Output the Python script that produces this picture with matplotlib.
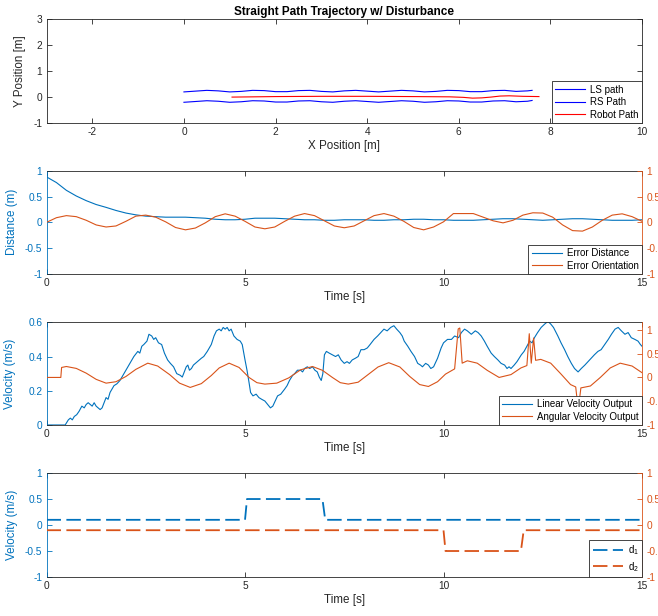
import numpy as np
import matplotlib
matplotlib.use('Agg')
import matplotlib.pyplot as plt
from matplotlib.ticker import FormatStrFormatter

plt.rcParams['font.family'] = ['Liberation Sans', 'DejaVu Sans']
plt.rcParams['axes.unicode_minus'] = False
plt.rcParams['mathtext.fontset'] = 'custom'
plt.rcParams['mathtext.rm'] = 'Liberation Sans'
plt.rcParams['mathtext.it'] = 'Liberation Sans:italic'

BLUE = '#0072BD'
ORANGE = '#D95319'
DARK = '#262626'

# ---- trajectory (x-y) ----
path_x = [0.0, 0.25, 0.5, 0.75, 1.0, 1.25, 1.5, 1.75, 2.0, 2.25, 2.5, 2.75, 3.0, 3.25, 3.5, 3.75,
          4.0, 4.25, 4.5, 4.75, 5.0, 5.25, 5.5, 5.75, 6.0, 6.25, 6.5, 6.75, 7.0, 7.25, 7.5, 7.6]
ls_y = [0.20, 0.23, 0.26, 0.24, 0.20, 0.22, 0.26, 0.25, 0.21, 0.21, 0.25, 0.26, 0.22, 0.20, 0.24, 0.26,
        0.23, 0.20, 0.23, 0.26, 0.24, 0.20, 0.22, 0.26, 0.25, 0.21, 0.21, 0.25, 0.26, 0.22, 0.24, 0.26]
rs_y = [-0.20, -0.17, -0.14, -0.16, -0.20, -0.18, -0.14, -0.15, -0.19, -0.19, -0.15, -0.14, -0.18, -0.20, -0.16, -0.14,
        -0.17, -0.20, -0.17, -0.14, -0.16, -0.20, -0.18, -0.14, -0.15, -0.19, -0.19, -0.15, -0.14, -0.18, -0.16, -0.13]
robot_x = [1.05, 2.0, 3.0, 4.0, 5.0, 5.8, 6.1, 6.3, 6.5, 6.7, 6.9, 7.1, 7.4, 7.75]
robot_y = [0.0, 0.02, 0.03, 0.03, 0.02, 0.01, -0.01, -0.04, -0.03, 0.0, 0.04, 0.05, 0.03, 0.02]

# ---- errors vs time ----
t_err = np.arange(61) * 0.25
err_dist = [0.88, 0.77, 0.62, 0.51, 0.42, 0.345, 0.29, 0.23, 0.18, 0.145, 0.12, 0.11, 0.10, 0.10, 0.10, 0.09,
            0.08, 0.06, 0.05, 0.05, 0.06, 0.08, 0.08, 0.08, 0.07, 0.06, 0.05, 0.05, 0.04, 0.04, 0.05, 0.05,
            0.05, 0.04, 0.04, 0.05, 0.05, 0.06, 0.06, 0.05, 0.05, 0.04, 0.04, 0.04, 0.05, 0.06, 0.07, 0.07,
            0.06, 0.05, 0.04, 0.05, 0.06, 0.07, 0.07, 0.06, 0.05, 0.04, 0.04, 0.04, 0.05]
err_orient = [0.0, 0.09, 0.13, 0.11, 0.04, -0.05, -0.09, -0.07, 0.02, 0.12, 0.14, 0.10, 0.01, -0.10, -0.145, -0.11,
              -0.01, 0.11, 0.165, 0.12, 0.02, -0.09, -0.125, -0.09, 0.02, 0.12, 0.17, 0.13, 0.03, -0.07, -0.105, -0.07,
              0.03, 0.13, 0.17, 0.12, 0.02, -0.10, -0.145, -0.09, 0.01, 0.17, 0.17, 0.17, 0.10, 0.03, -0.01, 0.04,
              0.14, 0.185, 0.18, 0.10, -0.05, -0.16, -0.17, -0.09, 0.04, 0.14, 0.165, 0.11, 0.02]

# ---- controller outputs ----
lin_t = [0.0, 0.47, 0.55, 0.6, 0.65, 0.7, 0.76, 0.82, 0.89, 0.95, 1.0, 1.05, 1.1, 1.15, 1.2, 1.25, 1.3, 1.35,
         1.4, 1.45, 1.5, 1.55, 1.6, 1.7, 1.77, 1.85, 1.95, 2.05, 2.1, 2.2, 2.3, 2.35, 2.4, 2.45, 2.53, 2.58,
         2.65, 2.7, 2.75, 2.82, 2.9, 2.97, 3.05, 3.12, 3.2, 3.28, 3.37, 3.42, 3.47, 3.52, 3.56, 3.6, 3.65, 3.7,
         3.8, 3.9, 3.96, 4.05, 4.15, 4.22, 4.28, 4.35, 4.4, 4.45, 4.5, 4.55, 4.6, 4.65, 4.72, 4.8, 4.88, 4.93,
         5.0, 5.05, 5.1, 5.14, 5.2, 5.28, 5.35, 5.42, 5.5, 5.57, 5.64, 5.7, 5.76, 5.82, 5.9, 6.0, 6.06, 6.12,
         6.2, 6.25, 6.32, 6.4, 6.45, 6.5, 6.57, 6.63, 6.7, 6.76, 6.82, 6.87, 6.92, 6.96, 7.0, 7.05, 7.12, 7.2,
         7.28, 7.35, 7.42, 7.5, 7.57, 7.63, 7.7, 7.78, 7.85, 7.92, 8.0, 8.08, 8.15, 8.25, 8.34, 8.42, 8.5, 8.58,
         8.67, 8.75, 8.82, 8.9, 8.96, 9.01, 9.1, 9.18, 9.27, 9.35, 9.42, 9.47, 9.55, 9.62, 9.68, 9.75, 9.85, 9.94,
         10.0, 10.1, 10.2, 10.28, 10.38, 10.45, 10.53, 10.6, 10.7, 10.8, 10.87, 10.95, 11.03, 11.1, 11.2, 11.28,
         11.37, 11.45, 11.54, 11.6, 11.65, 11.7, 11.78, 11.85, 11.96, 12.03, 12.1, 12.17, 12.23, 12.29, 12.37,
         12.46, 12.55, 12.63, 12.7, 12.77, 12.88, 12.96, 13.05, 13.13, 13.22, 13.3, 13.39, 13.47, 13.56, 13.64,
         13.72, 13.8, 13.89, 13.97, 14.06, 14.15, 14.23, 14.32, 14.4, 14.48, 14.57, 14.65, 14.73, 14.82, 14.9,
         14.96, 15.0]
lin_v = [0.0, 0.0, 0.03, 0.04, 0.03, 0.05, 0.06, 0.08, 0.11, 0.10, 0.12, 0.13, 0.12, 0.11, 0.13, 0.11, 0.10, 0.09,
         0.10, 0.13, 0.16, 0.15, 0.19, 0.23, 0.24, 0.26, 0.30, 0.34, 0.36, 0.40, 0.43, 0.42, 0.46, 0.47, 0.49, 0.53,
         0.52, 0.50, 0.51, 0.48, 0.47, 0.42, 0.38, 0.36, 0.34, 0.30, 0.29, 0.28, 0.31, 0.34, 0.35, 0.32, 0.33, 0.35,
         0.37, 0.39, 0.40, 0.43, 0.47, 0.52, 0.55, 0.56, 0.55, 0.57, 0.56, 0.57, 0.55, 0.56, 0.52, 0.50, 0.49, 0.47,
         0.38, 0.32, 0.25, 0.19, 0.17, 0.18, 0.16, 0.15, 0.14, 0.12, 0.10, 0.11, 0.14, 0.17, 0.18, 0.21, 0.23, 0.26,
         0.29, 0.30, 0.32, 0.32, 0.31, 0.33, 0.34, 0.33, 0.34, 0.32, 0.31, 0.28, 0.26, 0.30, 0.41, 0.43, 0.42, 0.41,
         0.40, 0.41, 0.38, 0.36, 0.37, 0.36, 0.38, 0.39, 0.40, 0.44, 0.44, 0.45, 0.47, 0.50, 0.52, 0.54, 0.56, 0.55,
         0.57, 0.58, 0.56, 0.54, 0.52, 0.49, 0.46, 0.43, 0.40, 0.36, 0.35, 0.34, 0.36, 0.35, 0.33, 0.34, 0.39, 0.45,
         0.48, 0.50, 0.50, 0.52, 0.51, 0.54, 0.56, 0.55, 0.53, 0.55, 0.54, 0.52, 0.49, 0.46, 0.42, 0.40,
         0.38, 0.36, 0.35, 0.33, 0.34, 0.33, 0.35, 0.37, 0.41, 0.43, 0.46, 0.49, 0.48, 0.51, 0.54,
         0.57, 0.59, 0.605, 0.59, 0.57, 0.52, 0.48, 0.44, 0.40, 0.36, 0.33, 0.31, 0.33, 0.35, 0.37,
         0.39, 0.41, 0.43, 0.44, 0.47, 0.50, 0.53, 0.56, 0.57, 0.55, 0.53, 0.54, 0.51, 0.50, 0.49,
         0.47, 0.46]
ang_t = [0.0, 0.36, 0.38, 0.5, 0.75, 1.0, 1.25, 1.5, 1.75, 2.0, 2.25, 2.55, 2.8, 3.1, 3.35, 3.62, 3.9, 4.15,
         4.35, 4.6, 4.85, 5.1, 5.3, 5.5, 5.8, 6.1, 6.4, 6.7, 6.95, 7.2, 7.4, 7.6, 7.85, 8.1, 8.35, 8.62, 8.9,
         9.15, 9.4, 9.62, 9.85, 10.05, 10.28, 10.37, 10.41, 10.47, 10.6, 10.85, 11.1, 11.4, 11.7, 11.95, 12.1,
         12.16, 12.21, 12.27, 12.32, 12.45, 12.7, 12.95, 13.2, 13.33, 13.37, 13.42, 13.46, 13.7, 13.95, 14.2,
         14.45, 14.75, 15.0]
ang_w = [0.0, 0.0, 0.21, 0.23, 0.19, 0.09, -0.04, -0.12, -0.09, 0.02, 0.17, 0.30, 0.24, 0.06, -0.12, -0.21, -0.13,
         0.04, 0.20, 0.30, 0.21, 0.0, -0.11, -0.14, -0.12, -0.01, 0.16, 0.23, 0.15, 0.0, -0.11, -0.14, -0.10, 0.06,
         0.22, 0.31, 0.22, 0.02, -0.15, -0.19, -0.09, 0.07, 0.18, 1.02, 1.04, 0.30, 0.35, 0.30, 0.15, 0.0, 0.06,
         0.20, 0.25, 0.92, 0.30, 0.83, 0.36, 0.38, 0.30, 0.08, -0.15, -0.20, -0.50, -0.50, -0.22, -0.18, 0.0,
         0.20, 0.30, 0.24, 0.10]

# ---- disturbances ----
d1_t = [0.0, 5.0, 5.05, 6.95, 7.02, 15.0]
d1_v = [0.1, 0.1, 0.5, 0.5, 0.1, 0.1]
d2_t = [0.0, 10.0, 10.05, 11.95, 12.02, 15.0]
d2_v = [-0.1, -0.1, -0.5, -0.5, -0.1, -0.1]

LABEL_FS = 8.4


def matlab_style(ax):
    ax.tick_params(direction='in', length=3.5, width=0.6, labelsize=7.3, colors=DARK, pad=3,
                   top=True, right=True)
    for s in ax.spines.values():
        s.set_linewidth(0.6)
        s.set_color(DARK)
    ax.xaxis.set_major_formatter(FormatStrFormatter('%g'))
    ax.yaxis.set_major_formatter(FormatStrFormatter('%g'))


def yy_axes(rect):
    ax = fig.add_axes(rect)
    matlab_style(ax)
    axr = ax.twinx()
    ax.tick_params(axis='y', right=False, colors=BLUE)
    ax.spines['left'].set_color(BLUE)
    ax.spines['right'].set_visible(False)
    axr.tick_params(axis='y', direction='in', length=3.5, width=0.6, labelsize=7.3, colors=ORANGE, pad=3)
    axr.tick_params(axis='x', bottom=False, top=False, labelbottom=False)
    for side in ['left', 'top', 'bottom']:
        axr.spines[side].set_visible(False)
    axr.spines['right'].set_color(ORANGE)
    axr.spines['right'].set_linewidth(0.6)
    axr.yaxis.set_major_formatter(FormatStrFormatter('%g'))
    ax.set_xlim(0, 15)
    ax.set_xticks([0, 5, 10, 15])
    ax.set_xlabel('Time [s]', fontsize=LABEL_FS, color=DARK, labelpad=2)
    return ax, axr


def add_legend(ax, handles, labels):
    leg = ax.legend(handles, labels, loc='lower right', borderaxespad=0, fancybox=False, framealpha=1,
                    edgecolor=DARK, fontsize=7, handlelength=3.1, handletextpad=0.5, borderpad=0.35,
                    labelspacing=0.25)
    leg.get_frame().set_linewidth(0.6)
    for txt in leg.get_texts():
        txt.set_color('black')
    return leg


fig = plt.figure(figsize=(6.58, 6.16), dpi=100)
L, W = 0.0707, 0.905

# trajectory
ax1 = fig.add_axes([L, 0.8003, W, 0.1683])
matlab_style(ax1)
h1, = ax1.plot(path_x, ls_y, color='b', lw=0.8)
h2, = ax1.plot(path_x, rs_y, color='b', lw=0.8)
h3, = ax1.plot(robot_x, robot_y, color='r', lw=0.8)
ax1.set_xlim(-3, 10)
ax1.set_ylim(-1, 3)
ax1.set_xticks([-2, 0, 2, 4, 6, 8, 10])
ax1.set_yticks([-1, 0, 1, 2, 3])
ax1.set_xlabel('X Position [m]', fontsize=LABEL_FS, color=DARK, labelpad=2)
ax1.set_ylabel('Y Position [m]', fontsize=LABEL_FS, color=DARK, labelpad=5)
ax1.set_title('Straight Path Trajectory w/ Disturbance', fontsize=8.5, fontweight='bold', pad=3)
add_legend(ax1, [h1, h2, h3], ['LS path', 'RS Path', 'Robot Path'])

# tracking errors
ax2, ax2r = yy_axes([L, 0.5552, W, 0.1677])
e1, = ax2.plot(t_err, err_dist, color=BLUE, lw=0.8)
e2, = ax2r.plot(t_err, err_orient, color=ORANGE, lw=0.8)
ax2.set_ylim(-1, 1)
ax2r.set_ylim(-1, 1)
ax2.set_yticks([-1, -0.5, 0, 0.5, 1])
ax2r.set_yticks([-1, -0.5, 0, 0.5, 1])
ax2.set_ylabel('Distance (m)', fontsize=LABEL_FS, color=BLUE, labelpad=5)
add_legend(ax2r, [e1, e2], ['Error Distance', 'Error Orientation'])

# velocity outputs
ax3, ax3r = yy_axes([L, 0.3101, W, 0.1667])
v1, = ax3.plot(lin_t, lin_v, color=BLUE, lw=0.8)
v2, = ax3r.plot(ang_t, ang_w, color=ORANGE, lw=0.8)
ax3.set_ylim(0, 0.6)
ax3r.set_ylim(-1, 1.16)
ax3.set_yticks([0, 0.2, 0.4, 0.6])
ax3r.set_yticks([-1, -0.5, 0, 0.5, 1])
ax3.set_ylabel('Velocity (m/s)', fontsize=LABEL_FS, color=BLUE, labelpad=9)
add_legend(ax3r, [v1, v2], ['Linear Velocity Output', 'Angular Velocity Output'])

# disturbances
ax4, ax4r = yy_axes([L, 0.0633, W, 0.1688])
g1, = ax4.plot(d1_t, d1_v, color=BLUE, lw=1.3, dashes=(8, 3))
g2, = ax4r.plot(d2_t, d2_v, color=ORANGE, lw=1.3, dashes=(8, 3))
ax4.set_ylim(-1, 1)
ax4r.set_ylim(-1, 1)
ax4.set_yticks([-1, -0.5, 0, 0.5, 1])
ax4r.set_yticks([-1, -0.5, 0, 0.5, 1])
ax4.set_ylabel('Velocity (m/s)', fontsize=LABEL_FS, color=BLUE, labelpad=5)
add_legend(ax4r, [g1, g2], ['d$_1$', 'd$_2$'])

fig.savefig('out.png', dpi=100)
